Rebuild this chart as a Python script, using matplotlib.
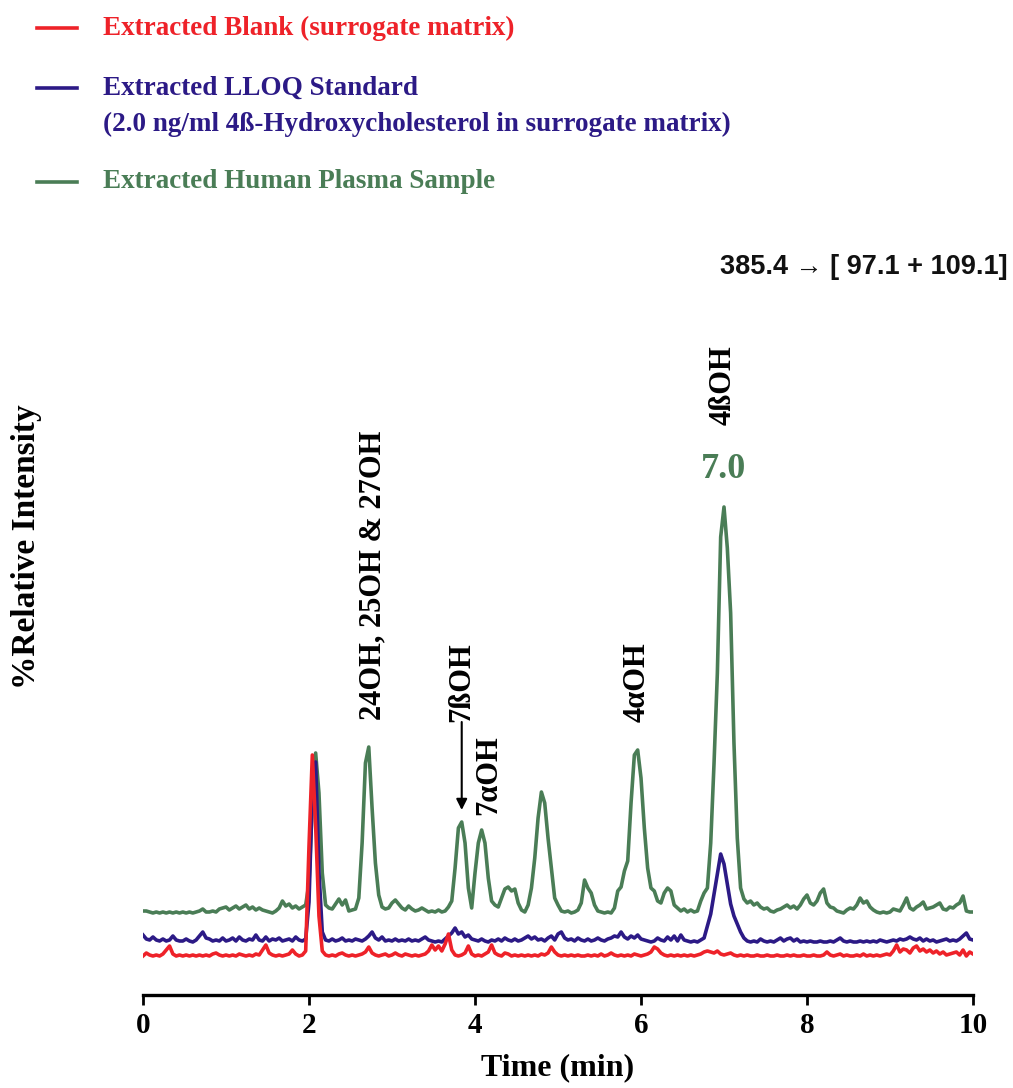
import numpy as np
import matplotlib
matplotlib.use("Agg")
import matplotlib.pyplot as plt

# ---- chromatogram data: retention time grid (min) and trace heights above each trace's own baseline ----
time_min = np.round(np.arange(0, 251) * 0.04, 2)

green_plasma = [
    # 0.00 - 0.96
    2, 2, 1, 0, 1, 0, 1, 0, 1, 0, 1, 0, 1, 0, 1, 0, 1, 2, 4, 1, 1, 2, 1, 4, 5,
    # 1.00 - 1.96
    6, 3, 5, 7, 4, 6, 8, 4, 6, 3, 5, 3, 2, 1, 0, 2, 5, 12, 7, 9, 5, 7, 4, 6, 8,
    # 2.00 - 2.96
    30, 110, 160, 120, 40, 8, 5, 4, 9, 14, 8, 13, 2, 3, 4, 15, 70, 150, 166, 105, 50, 18, 6, 4, 5,
    # 3.00 - 3.96
    10, 13, 9, 5, 3, 7, 4, 2, 3, 5, 3, 1, 2, 1, 3, 1, 2, 6, 12, 45, 85, 91, 70, 25, 5,
    # 4.00 - 4.96
    40, 70, 83, 70, 35, 12, 8, 6, 15, 24, 26, 22, 24, 10, 3, 1, 8, 25, 55, 95, 121, 110, 75, 45, 15,
    # 5.00 - 5.96
    8, 2, 1, 2, 0, 1, 3, 10, 33, 25, 20, 8, 2, 1, 0, 1, 0, 5, 22, 26, 42, 52, 110, 158, 163,
    # 6.00 - 6.96
    135, 85, 45, 25, 22, 12, 10, 20, 25, 22, 8, 5, 2, 4, 1, 3, 1, 2, 12, 20, 25, 70, 150, 240, 376,
    # 7.00 - 7.96
    406, 365, 300, 170, 75, 25, 14, 10, 12, 8, 10, 6, 4, 5, 2, 1, 3, 4, 6, 8, 5, 7, 4, 8, 14,
    # 8.00 - 8.96
    18, 10, 8, 12, 20, 24, 10, 6, 5, 2, 1, 0, 3, 5, 4, 8, 15, 10, 12, 6, 3, 1, 0, 1, 0,
    # 9.00 - 10.00
    1, 4, 3, 2, 8, 15, 5, 3, 6, 8, 11, 4, 5, 6, 8, 10, 4, 3, 6, 5, 8, 10, 17, 2, 1, 1,
]

blue_lloq = [
    # 0.00 - 0.96
    7, 3, 2, 5, 2, 1, 3, 1, 2, 6, 2, 1, 1, 3, 1, 0, 2, 6, 10, 4, 3, 1, 2, 1, 4,
    # 1.00 - 1.96
    1, 2, 4, 1, 5, 2, 1, 3, 2, 7, 2, 1, 5, 1, 3, 2, 4, 1, 2, 3, 1, 5, 2, 1, 3,
    # 2.00 - 2.96
    40, 150, 180, 70, 10, 2, 1, 3, 1, 2, 4, 1, 2, 1, 3, 2, 1, 3, 6, 10, 4, 2, 5, 1, 2,
    # 3.00 - 3.96
    1, 3, 1, 2, 1, 3, 1, 2, 1, 3, 5, 2, 1, 0, 1, 0, 3, 6, 9, 14, 8, 10, 5, 7, 3,
    # 4.00 - 4.96
    2, 1, 3, 1, 0, 2, 1, 3, 1, 4, 2, 1, 3, 1, 2, 4, 6, 3, 5, 2, 3, 1, 4, 6, 2,
    # 5.00 - 5.96
    8, 10, 4, 2, 3, 1, 4, 2, 1, 3, 1, 2, 4, 2, 1, 3, 4, 6, 5, 10, 5, 3, 6, 4, 7,
    # 6.00 - 6.96
    3, 2, 1, 0, 1, 4, 2, 1, 5, 2, 6, 1, 7, 2, 1, 0, 1, 0, 2, 4, 16, 28, 48, 68, 88,
    # 7.00 - 7.96
    78, 58, 38, 26, 18, 10, 4, 1, 0, 1, 0, 3, 1, 0, 1, 0, 2, 4, 1, 3, 4, 1, 3, 0, 1,
    # 8.00 - 8.96
    0, 1, 0, 0, 1, 0, 0, 1, 0, 2, 4, 1, 0, 1, 0, 0, 1, 0, 1, 0, 1, 0, 2, 1, 0,
    # 9.00 - 10.00
    1, 2, 1, 3, 2, 3, 5, 3, 2, 4, 1, 3, 1, 2, 0, 1, 2, 3, 1, 2, 1, 3, 6, 9, 3, 2,
]

red_blank = [
    # 0.00 - 0.96
    0, 3, 1, 0, 1, 0, 2, 6, 10, 2, 0, 1, 0, 1, 0, 1, 0, 1, 0, 1, 0, 2, 3, 1, 0,
    # 1.00 - 1.96
    1, 0, 1, 0, 2, 1, 0, 1, 0, 2, 1, 6, 11, 3, 1, 0, 1, 0, 1, 2, 6, 2, 0, 1, 5,
    # 2.00 - 2.96
    110, 201, 130, 40, 5, 1, 0, 1, 0, 2, 3, 1, 0, 1, 0, 1, 2, 4, 9, 3, 1, 0, 1, 2, 0,
    # 3.00 - 3.96
    1, 3, 1, 0, 2, 1, 0, 1, 0, 1, 2, 5, 11, 6, 10, 5, 12, 22, 6, 1, 0, 1, 3, 10, 2,
    # 4.00 - 4.96
    0, 1, 0, 2, 4, 11, 3, 1, 0, 3, 2, 0, 1, 0, 1, 0, 1, 0, 1, 0, 2, 1, 3, 9, 4,
    # 5.00 - 5.96
    1, 0, 1, 0, 1, 0, 1, 0, 0, 1, 0, 1, 0, 2, 0, 1, 3, 1, 0, 1, 0, 1, 0, 2, 1,
    # 6.00 - 6.96
    0, 1, 2, 4, 9, 7, 3, 1, 0, 1, 0, 1, 0, 1, 0, 1, 0, 1, 2, 4, 5, 4, 3, 5, 2,
    # 7.00 - 7.96
    1, 2, 3, 1, 0, 1, 0, 1, 0, 0, 1, 0, 0, 1, 0, 0, 1, 0, 0, 1, 0, 1, 0, 0, 1,
    # 8.00 - 8.96
    0, 0, 1, 0, 0, 1, 4, 1, 0, 1, 2, 0, 1, 0, 0, 1, 0, 2, 0, 1, 0, 1, 0, 1, 2,
    # 9.00 - 10.00
    1, 5, 11, 4, 7, 6, 3, 8, 10, 5, 7, 4, 6, 3, 5, 2, 4, 1, 2, 3, 4, 1, 6, 0, 4, 2,
]

# vertical stacking of the three traces
offset_red, offset_blue, offset_green = 39, 53, 82

legend_labels = [
    "Extracted Blank (surrogate matrix)",
    "Extracted LLOQ Standard\n(2.0 ng/ml 4\u00df-Hydroxycholesterol in surrogate matrix)",
    "Extracted Human Plasma Sample",
]
x_ticks = [0, 2, 4, 6, 8, 10]
transition_label = "385.4 \u2192 [ 97.1 + 109.1]"

RED = "#ee2229"
BLUE = "#2c1a86"
GREEN = "#4a7d56"
SERIF = ["Liberation Serif", "DejaVu Serif"]
SANS = ["Liberation Sans", "DejaVu Sans"]

W, H = 1013, 1088
fig = plt.figure(figsize=(W / 100, H / 100), dpi=100)
ax = fig.add_axes([143 / W, 93 / H, 830 / W, 795 / H])

t = time_min
ax.plot(t, np.array(green_plasma) + offset_green, color=GREEN, lw=2.6, solid_joinstyle="round")
ax.plot(t, np.array(blue_lloq) + offset_blue, color=BLUE, lw=2.6, solid_joinstyle="round")
ax.plot(t, np.array(red_blank) + offset_red, color=RED, lw=2.6, solid_joinstyle="round")

ax.set_xlim(0, 10)
ax.set_ylim(0, 795)
for side in ("left", "right", "top"):
    ax.spines[side].set_visible(False)
ax.spines["bottom"].set_linewidth(2.4)
ax.set_yticks([])
ax.set_xticks(x_ticks)
ax.set_xticklabels([str(v) for v in x_ticks], fontfamily=SERIF, fontweight="bold", fontsize=21)
ax.tick_params(axis="x", direction="out", length=7, width=2, pad=5)

ax.set_xlabel("Time (min)", fontfamily=SERIF, fontweight="bold", fontsize=23, va="center")
ax.xaxis.set_label_coords(0.5, (995 - 1068) / 795)
ax.set_ylabel("%Relative Intensity", fontfamily=SERIF, fontweight="bold", fontsize=24, va="center")
ax.yaxis.set_label_coords((27 - 143) / 830, (995 - 547) / 795)

# peak identities
ann = dict(fontfamily=SERIF, fontweight="bold", fontsize=22, rotation=90,
           ha="center", va="bottom", color="black")
ax.text(2.77, 275, "24OH, 25OH & 27OH", **ann)
ax.text(3.84, 273, "7\u00dfOH", **ann)
ax.text(4.16, 180, "7\u03b1OH", **ann)
ax.text(5.95, 273, "4\u03b1OH", **ann)
ax.text(6.99, 570, "4\u00dfOH", **ann)
ax.annotate("", xy=(3.84, 185), xytext=(3.84, 273),
            arrowprops=dict(arrowstyle="-|>", color="black", lw=1.5, mutation_scale=16,
                            shrinkA=0, shrinkB=0))
ax.text(6.99, 525, "7.0", fontfamily=SERIF, fontweight="bold", fontsize=26,
        color=GREEN, ha="center", va="center")

# transition label
fig.text(1008 / W, 1 - 267 / H, transition_label, fontfamily=SANS, fontweight="bold",
         fontsize=19.5, ha="right", va="center", color="#111111")

# legend drawn as figure text with short line keys
rows = [(28, RED, legend_labels[0]), (106, BLUE, legend_labels[1]), (182, GREEN, legend_labels[2])]
for ypix, col, lab in rows:
    key_y = ypix if "\n" not in lab else 88
    fig.add_artist(plt.Line2D([37 / W, 77 / W], [1 - key_y / H, 1 - key_y / H],
                              color=col, lw=2.6, transform=fig.transFigure))
    fig.text(103 / W, 1 - ypix / H, lab, fontfamily=SERIF, fontweight="bold", fontsize=19.5,
             color=col, ha="left", va="center", linespacing=1.58)

fig.savefig("out.png", dpi=100)
